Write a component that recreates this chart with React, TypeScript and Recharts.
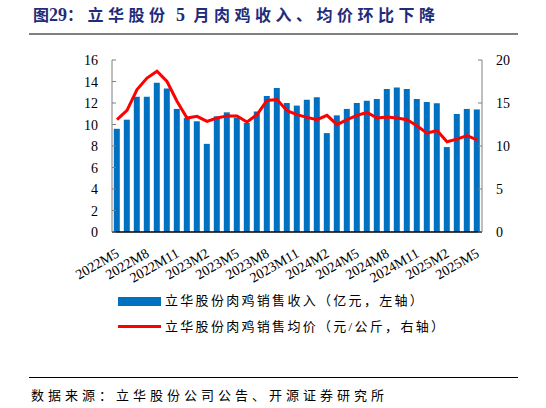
import React from 'react';
import { ComposedChart, Bar, Line, XAxis, YAxis } from 'recharts';

const months = [
  '2022M5', '2022M6', '2022M7', '2022M8', '2022M9', '2022M10', '2022M11', '2022M12',
  '2023M1', '2023M2', '2023M3', '2023M4', '2023M5', '2023M6', '2023M7', '2023M8',
  '2023M9', '2023M10', '2023M11', '2023M12', '2024M1', '2024M2', '2024M3', '2024M4',
  '2024M5', '2024M6', '2024M7', '2024M8', '2024M9', '2024M10', '2024M11', '2024M12',
  '2025M1', '2025M2', '2025M3', '2025M4', '2025M5',
];

const revenue = [
  9.6, 10.45, 12.57, 12.57, 13.88, 13.35, 11.45, 10.6,
  10.3, 8.2, 10.76, 11.13, 10.64, 10.14, 11.2, 12.66,
  13.4, 12.0, 11.76, 12.3, 12.54, 9.2, 10.85, 11.45,
  12.0, 12.2, 12.38, 13.3, 13.44, 13.3, 12.38, 12.1,
  11.98, 7.9, 10.98, 11.45, 11.4,
];

const price = [
  13.06, 14.15, 16.57, 17.9, 18.7, 17.5, 15.2, 13.25,
  13.45, 12.87, 13.25, 13.5, 13.5, 12.8, 13.65, 15.3,
  15.4, 14.1, 13.65, 13.33, 13.06, 13.57, 12.48, 13.06,
  13.57, 13.9, 13.25, 13.37, 13.25, 13.06, 12.36, 11.5,
  11.8, 10.5, 10.8, 11.2, 10.72,
];

const shownLabels = [
  '2022M5', '2022M8', '2022M11', '2023M2', '2023M5', '2023M8', '2023M11',
  '2024M2', '2024M5', '2024M8', '2024M11', '2025M2', '2025M5',
];

const leftTicks = [0, 2, 4, 6, 8, 10, 12, 14, 16];
const rightTicks = [0, 5, 10, 15, 20];

const titleParts = ['图', '29', '：立华股份', ' 5 ', '月肉鸡收入、均价环比下降'];
const legendBar = '立华股份肉鸡销售收入（亿元，左轴）';
const legendLine = '立华股份肉鸡销售均价（元/公斤，右轴）';
const source = '数据来源：立华股份公司公告、开源证券研究所';

const data = months.map((m, i) => ({ month: m, revenue: revenue[i], price: price[i] }));

const serif = '"Liberation Serif", "Times New Roman", serif';
const cjk = '"Liberation Serif", "Noto Sans CJK SC", serif';

const LeftTick = (props: any) => {
  const { x, y, payload } = props;
  return (
    <g>
      <line x1={x} x2={x + 4} y1={y} y2={y} stroke="#7f7f7f" strokeWidth={1} />
      <text x={x - 14} y={y} dy={5} textAnchor="end" fontFamily={serif} fontSize={14} fill="#000">
        {payload.value}
      </text>
    </g>
  );
};

const RightTick = (props: any) => {
  const { x, y, payload } = props;
  return (
    <g>
      <line x1={x - 4} x2={x} y1={y} y2={y} stroke="#7f7f7f" strokeWidth={1} />
      <text x={x + 14} y={y} dy={5} textAnchor="start" fontFamily={serif} fontSize={14} fill="#000">
        {payload.value}
      </text>
    </g>
  );
};

const XTick = (props: any) => {
  const { x, y, payload } = props;
  if (!shownLabels.includes(payload.value)) return <g />;
  const px = x + 3;
  const py = y + 24;
  return (
    <text
      x={px}
      y={py}
      textAnchor="end"
      transform={`rotate(-30, ${px}, ${py})`}
      fontFamily={serif}
      fontSize={14}
      fill="#000"
    >
      {payload.value}
    </text>
  );
};

export default function App() {
  return (
    <div
      style={{
        position: 'absolute',
        left: 0,
        top: 0,
        width: 546,
        height: 408,
        background: '#fff',
        overflow: 'hidden',
      }}
    >
      <div
        style={{
          position: 'absolute',
          left: 33,
          top: 4,
          fontFamily: cjk,
          fontWeight: 'bold',
          fontSize: 16,
          lineHeight: '22px',
          color: '#1F2C7A',
          whiteSpace: 'pre',
        }}
      >
        <span style={{ letterSpacing: 0 }}>{titleParts[0]}</span>
        <span style={{ letterSpacing: 0, fontSize: 18 }}>{titleParts[1]}</span>
        <span style={{ letterSpacing: 4.5 }}>{titleParts[2]}</span>
        <span style={{ letterSpacing: 2, fontSize: 18 }}>{titleParts[3]}</span>
        <span style={{ letterSpacing: 4.5 }}>{titleParts[4]}</span>
      </div>
      <div style={{ position: 'absolute', left: 29, top: 33, width: 489, height: 2, background: '#808080' }} />

      <div style={{ position: 'absolute', left: 0, top: 0 }}>
        <ComposedChart
          width={546}
          height={300}
          data={data}
          margin={{ top: 60, right: 14, left: 52, bottom: 18 }}
          barCategoryGap="18%"
        >
          <XAxis
            dataKey="month"
            interval={0}
            tick={<XTick />}
            tickLine={false}
            tickSize={0}
            tickMargin={0}
            height={50}
            axisLine={{ stroke: '#000', strokeWidth: 1.5 }}
          />
          <YAxis
            yAxisId="left"
            orientation="left"
            domain={[0, 16]}
            ticks={leftTicks}
            interval={0}
            width={60}
            tick={<LeftTick />}
            tickLine={false}
            tickSize={0}
            tickMargin={0}
            axisLine={{ stroke: '#7f7f7f' }}
          />
          <YAxis
            yAxisId="right"
            orientation="right"
            domain={[0, 20]}
            ticks={rightTicks}
            interval={0}
            width={50}
            tick={<RightTick />}
            tickLine={false}
            tickSize={0}
            tickMargin={0}
            axisLine={{ stroke: '#7f7f7f' }}
          />
          <Bar yAxisId="left" dataKey="revenue" fill="#0070C0" isAnimationActive={false} />
          <Line
            yAxisId="right"
            dataKey="price"
            stroke="#FF0000"
            strokeWidth={3}
            dot={false}
            type="linear"
            isAnimationActive={false}
          />
        </ComposedChart>
      </div>

      <div style={{ position: 'absolute', left: 118, top: 297, width: 43, height: 9, background: '#0070C0' }} />
      <div
        style={{
          position: 'absolute',
          left: 165,
          top: 292,
          fontFamily: cjk,
          fontSize: 13,
          letterSpacing: 2.3,
          lineHeight: '18px',
          color: '#000',
          whiteSpace: 'nowrap',
        }}
      >
        {legendBar}
      </div>
      <div style={{ position: 'absolute', left: 118, top: 325, width: 43, height: 3, background: '#FF0000' }} />
      <div
        style={{
          position: 'absolute',
          left: 165,
          top: 318,
          fontFamily: cjk,
          fontSize: 13,
          letterSpacing: 2.3,
          lineHeight: '18px',
          color: '#000',
          whiteSpace: 'nowrap',
        }}
      >
        {legendLine}
      </div>

      <div style={{ position: 'absolute', left: 29, top: 377, width: 489, height: 1, background: '#000' }} />
      <div
        style={{
          position: 'absolute',
          left: 31,
          top: 387,
          fontFamily: cjk,
          fontSize: 13,
          letterSpacing: 4,
          lineHeight: '18px',
          color: '#000',
          whiteSpace: 'nowrap',
        }}
      >
        {source}
      </div>
    </div>
  );
}
